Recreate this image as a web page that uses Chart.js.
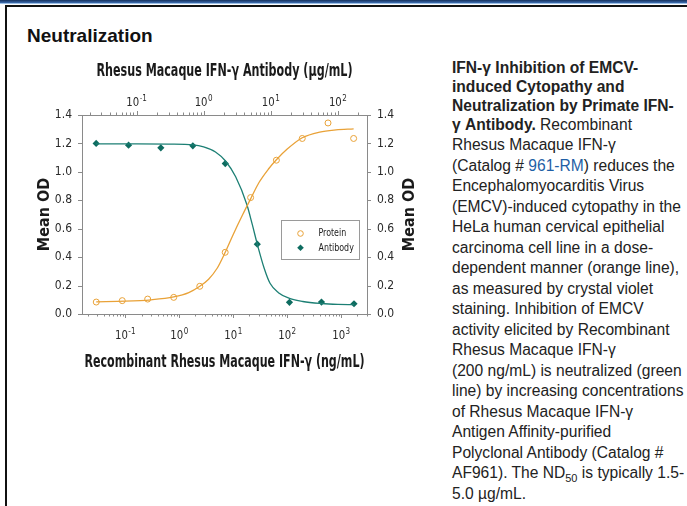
<!DOCTYPE html>
<html><head><meta charset="utf-8">
<script src="https://cdn.jsdelivr.net/npm/chart.js@4.4.0/dist/chart.umd.min.js"></script>
<style>
html,body{margin:0;padding:0;background:#fff;width:687px;height:506px;overflow:hidden;position:relative;}
#bar1{position:absolute;left:0;top:0;width:687px;height:3px;background:linear-gradient(#16325f,#3d6db0);}
#bar2{position:absolute;left:0;top:3px;width:687px;height:1px;background:#9cc0e8;}
#hline{position:absolute;left:5px;top:5px;width:682px;height:2px;background:#111;}
#vline{position:absolute;left:5px;top:5px;width:2px;height:501px;background:#111;}
#head{position:absolute;left:27px;top:25px;font:bold 19px "Liberation Sans",Arial,sans-serif;color:#111;}
#wrap{position:absolute;left:0;top:50px;width:430px;height:330px;}
#desc{position:absolute;left:452px;top:58px;font:15.6px "Liberation Sans",Arial,sans-serif;color:#222;}
.l{white-space:nowrap;height:20.5px;line-height:20.5px;}
.s{height:19px;line-height:19px;}
.b{font-weight:bold;}
a{color:#1f5fa6;text-decoration:none;}
sub{font-size:11px;line-height:0;vertical-align:-4px;}
</style>
</head><body>
<div id="bar1"></div><div id="bar2"></div><div id="hline"></div><div id="vline"></div>
<div id="head">Neutralization</div>
<div id="wrap"><canvas id="c" width="430" height="330"></canvas></div>
<div id="desc">
<div class="l s b">IFN-γ Inhibition of EMCV-</div>
<div class="l s b">induced Cytopathy and</div>
<div class="l s b">Neutralization by Primate IFN-</div>
<div class="l" style="height:20px;line-height:20px"><b>γ Antibody.</b> Recombinant</div>
<div class="l">Rhesus Macaque IFN-γ</div>
<div class="l">(Catalog # <a>961-RM</a>) reduces the</div>
<div class="l">Encephalomyocarditis Virus</div>
<div class="l">(EMCV)-induced cytopathy in the</div>
<div class="l">HeLa human cervical epithelial</div>
<div class="l">carcinoma cell line in a dose-</div>
<div class="l">dependent manner (orange line),</div>
<div class="l">as measured by crystal violet</div>
<div class="l">staining. Inhibition of EMCV</div>
<div class="l">activity elicited by Recombinant</div>
<div class="l">Rhesus Macaque IFN-γ</div>
<div class="l">(200 ng/mL) is neutralized (green</div>
<div class="l">line) by increasing concentrations</div>
<div class="l">of Rhesus Macaque IFN-γ</div>
<div class="l">Antigen Affinity-purified</div>
<div class="l">Polyclonal Antibody (Catalog #</div>
<div class="l">AF961). The ND<sub>50</sub> is typically 1.5-</div>
<div class="l">5.0 µg/mL.</div>
</div>
<script>
// ---- data ----
const proteinDose = [0.029, 0.088, 0.26, 0.79, 2.4, 7.1, 21, 63, 190, 570, 1700];
const proteinOD   = [0.084, 0.094, 0.105, 0.117, 0.195, 0.434, 0.819, 1.082, 1.235, 1.344, 1.235];
const antibodyDose = [0.025, 0.076, 0.23, 0.69, 2.1, 6.3, 19, 57, 174];
const antibodyOD   = [1.200, 1.188, 1.169, 1.183, 1.058, 0.491, 0.082, 0.084, 0.072];
const proteinFitDose = [0.029, 0.1, 0.3, 0.79, 1.5, 2.4, 3.5, 5, 7.1, 10, 15, 21, 30, 45, 63, 100, 190, 400, 800, 1700];
const proteinFitOD   = [0.086, 0.090, 0.100, 0.120, 0.150, 0.195, 0.245, 0.320, 0.434, 0.560, 0.700, 0.810, 0.925, 1.020, 1.085, 1.160, 1.240, 1.280, 1.295, 1.302];
const antibodyFitDose = [0.025, 0.1, 0.3, 0.69, 1.0, 1.5, 2.1, 3.0, 4.4, 5.3, 6.3, 8, 9.75, 13, 19, 30, 57, 100, 174];
const antibodyFitOD   = [1.197, 1.197, 1.195, 1.190, 1.176, 1.140, 1.078, 0.965, 0.770, 0.630, 0.491, 0.320, 0.216, 0.150, 0.110, 0.088, 0.074, 0.068, 0.066];
const yTickValues = [0, 0.2, 0.4, 0.6, 0.8, 1.0, 1.2, 1.4];
const bottomDecades = [0.1, 1, 10, 100, 1000];
const topDecades = [0.1, 1, 10, 100];
const bottomTitle = 'Recombinant Rhesus Macaque IFN-\u03B3 (ng/mL)';
const topTitle = 'Rhesus Macaque IFN-\u03B3 Antibody (\u00B5g/mL)';
const yTitle = 'Mean OD';

const FF = '"Liberation Sans Narrow","DejaVu Sans Condensed","Roboto Condensed",sans-serif';
const ORANGE = '#E9A238';
const TEAL = '#1C7F74';
const TEAL_DARK = '#0E6C60';
const AXIS = '#8a8a8a';
const TXT = '#2a2a2a';

const toXY = (xs, ys) => xs.map((v, i) => ({x: v, y: ys[i]}));

const decor = {
  id: 'decor',
  afterDraw(chart) {
    const ctx = chart.ctx, ca = chart.chartArea, S = chart.scales;
    ctx.save();
    ctx.strokeStyle = AXIS; ctx.lineWidth = 1;
    const logTicks = (scale, dir, base) => {
      const lo = Math.floor(Math.log10(scale.min)), hi = Math.ceil(Math.log10(scale.max));
      for (let e = lo; e <= hi; e++) for (let m = 1; m <= 9; m++) {
        const v = m * Math.pow(10, e);
        if (v < scale.min || v > scale.max) continue;
        const px = Math.round(scale.getPixelForValue(v)) + 0.5;
        const len = m === 1 ? 4 : 2.5;
        ctx.beginPath(); ctx.moveTo(px, base); ctx.lineTo(px, base + dir * len); ctx.stroke();
      }
    };
    logTicks(S.x, 1, ca.bottom);
    logTicks(S.x2, -1, ca.top);
    yTickValues.forEach(v => {
      const py = Math.round(S.y.getPixelForValue(v)) + 0.5;
      ctx.beginPath(); ctx.moveTo(ca.left, py); ctx.lineTo(ca.left - 4, py); ctx.stroke();
      ctx.beginPath(); ctx.moveTo(ca.right, py); ctx.lineTo(ca.right + 4, py); ctx.stroke();
    });
    // power-of-ten labels
    ctx.fillStyle = TXT; ctx.textAlign = 'left'; ctx.textBaseline = 'alphabetic';
    const drawPow = (px, baseY, v) => {
      const exp = Math.round(Math.log10(v));
      const es = exp < 0 ? '-' + (-exp) : String(exp);
      ctx.font = '12.5px ' + FF; const w1 = ctx.measureText('10').width * 0.9;
      ctx.font = '8px ' + FF; const w2 = ctx.measureText(es).width;
      const sx = px - (w1 + w2 + 0.5) / 2;
      ctx.font = '12.5px ' + FF; ctx.fillText('10', sx, baseY, w1);
      ctx.font = '8px ' + FF; ctx.fillText(es, sx + w1 + 0.5, baseY - 5);
    };
    bottomDecades.forEach(v => drawPow(S.x.getPixelForValue(v), ca.bottom + 25, v));
    topDecades.forEach(v => drawPow(S.x2.getPixelForValue(v), ca.top - 9, v));
    // axis titles (condensed to the reference widths)
    const cx0 = (ca.left + ca.right) / 2;
    ctx.fillStyle = '#1a1a1a'; ctx.textAlign = 'center'; ctx.textBaseline = 'alphabetic';
    ctx.font = 'bold 17px ' + FF;
    ctx.fillText(topTitle, cx0, 26, 256);
    ctx.fillText(bottomTitle, cx0, 317, 280);
    // right axis title
    ctx.save();
    ctx.font = 'bold 16px ' + FF;
    ctx.textAlign = 'center'; ctx.textBaseline = 'middle';
    ctx.translate(410, (ca.top + ca.bottom) / 2); ctx.rotate(-Math.PI / 2);
    ctx.fillText(yTitle, 0, 0);
    ctx.restore();
    // legend box
    const bx = 281.5, by = 170.5, bw = 78, bh = 39;
    ctx.fillStyle = '#fff'; ctx.fillRect(bx, by, bw, bh);
    ctx.strokeStyle = '#9a9a9a'; ctx.strokeRect(bx, by, bw, bh);
    const entries = chart.data.datasets.filter(d => d.legendEntry);
    entries.forEach((d, i) => {
      const cy = 183.5 + i * 14.3, cx = 300.5;
      if (d.pointStyle === 'circle') {
        ctx.beginPath(); ctx.arc(cx, cy, 2.8, 0, Math.PI * 2);
        ctx.strokeStyle = d.pointBorderColor; ctx.lineWidth = 1; ctx.stroke();
      } else {
        const r = 3.3;
        ctx.beginPath(); ctx.moveTo(cx, cy - r); ctx.lineTo(cx + r, cy); ctx.lineTo(cx, cy + r); ctx.lineTo(cx - r, cy); ctx.closePath();
        ctx.fillStyle = d.pointBackgroundColor; ctx.fill();
      }
      ctx.fillStyle = '#1a1a1a'; ctx.font = '11px ' + FF; ctx.textAlign = 'left'; ctx.textBaseline = 'middle';
      const w = ctx.measureText(d.label).width * 0.8;
      ctx.fillText(d.label, 318.5, cy, w);
    });
    ctx.restore();
  }
};

new Chart(document.getElementById('c'), {
  type: 'scatter',
  data: {
    datasets: [
      {label: 'Protein fit', data: toXY(proteinFitDose, proteinFitOD), xAxisID: 'x', yAxisID: 'y',
       showLine: true, pointRadius: 0, borderColor: ORANGE, borderWidth: 1.3, cubicInterpolationMode: 'monotone', fill: false},
      {label: 'Antibody fit', data: toXY(antibodyFitDose, antibodyFitOD), xAxisID: 'x2', yAxisID: 'y',
       showLine: true, pointRadius: 0, borderColor: TEAL, borderWidth: 1.3, cubicInterpolationMode: 'monotone', fill: false},
      {label: 'Protein', legendEntry: true, data: toXY(proteinDose, proteinOD), xAxisID: 'x', yAxisID: 'y',
       pointStyle: 'circle', pointRadius: 3, pointBorderWidth: 1, pointBorderColor: ORANGE, pointBackgroundColor: 'rgba(255,255,255,0)', showLine: false},
      {label: 'Antibody', legendEntry: true, data: toXY(antibodyDose, antibodyOD), xAxisID: 'x2', yAxisID: 'y',
       pointStyle: 'rectRot', pointRadius: 3.6, pointBorderWidth: 0, pointBorderColor: TEAL_DARK, pointBackgroundColor: TEAL_DARK, showLine: false}
    ]
  },
  options: {
    responsive: false, animation: false, devicePixelRatio: 1,
    layout: {padding: 0},
    plugins: {legend: {display: false}, tooltip: {enabled: false}},
    scales: {
      x: {type: 'logarithmic', position: 'bottom', bounds: 'data', min: 0.0158, max: 3006,
          grid: {display: false, drawTicks: false, tickLength: 0}, border: {display: true, color: AXIS, width: 1},
          ticks: {display: false}, title: {display: false},
          afterFit: s => { s.height = 66; }},
      x2: {type: 'logarithmic', position: 'top', bounds: 'data', min: 0.01538, max: 271.8,
          grid: {display: false, drawTicks: false, tickLength: 0}, border: {display: true, color: AXIS, width: 1},
          ticks: {display: false}, title: {display: false},
          afterFit: s => { s.height = 65; }},
      y: {type: 'linear', position: 'left', min: 0, max: 1.4,
          grid: {display: false, drawTicks: false, tickLength: 0}, border: {display: true, color: AXIS, width: 1},
          afterBuildTicks: s => { s.ticks = yTickValues.map(v => ({value: v})); },
          ticks: {color: TXT, padding: 10, font: {family: FF, size: 12}, callback: v => Number(v).toFixed(1)},
          title: {display: true, text: yTitle, color: '#1a1a1a', font: {family: FF, size: 16, weight: 'bold'}, padding: {top: 35.4, bottom: 0}},
          afterFit: s => { s.width = 82; }},
      y2: {type: 'linear', position: 'right', min: 0, max: 1.4,
          grid: {display: false, drawTicks: false, tickLength: 0}, border: {display: true, color: AXIS, width: 1},
          afterBuildTicks: s => { s.ticks = yTickValues.map(v => ({value: v})); },
          ticks: {color: TXT, padding: 10, font: {family: FF, size: 12}, callback: v => Number(v).toFixed(1)},
          afterFit: s => { s.width = 63; }}
    }
  },
  plugins: [decor]
});
</script>
</body></html>
